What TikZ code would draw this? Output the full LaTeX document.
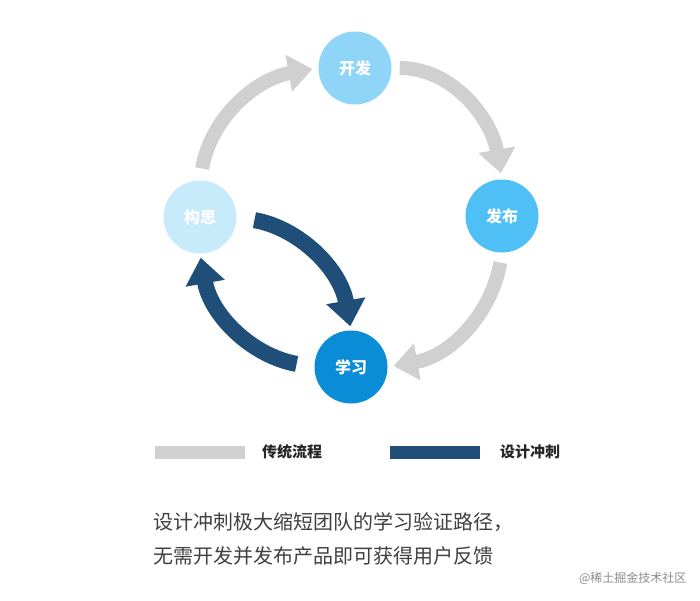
\documentclass[tikz,border=0pt]{standalone}
\usepackage{fontspec}
\setmainfont{Noto Sans CJK SC}
\usetikzlibrary{arrows.meta}
\definecolor{grayarr}{HTML}{D0D0D0}
\definecolor{darkarr}{HTML}{1F4E79}
\definecolor{cA}{HTML}{C8EBFB}
\definecolor{cB}{HTML}{8FD5F8}
\definecolor{cC}{HTML}{4EC0F5}
\definecolor{cD}{HTML}{0A8DD6}
\tikzset{
 stage/.style={circle,minimum size=73pt,inner sep=0pt,text=white,font=\fontsize{16}{16}\selectfont\bfseries},
 grayflow/.style={draw=grayarr,line width=14pt,-{Triangle[length=24pt,width=36pt]}},
 sprint/.style={draw=darkarr,line width=16pt,-{Triangle[length=26pt,width=38pt]}},
 legtxt/.style={font=\fontsize{15}{15}\selectfont\bfseries,text=black!85},
}
\begin{document}
\begin{tikzpicture}[x=1pt,y=-1pt]
\useasboundingbox[fill=white] (0,0) rectangle (700,600);
\node[stage,fill=cB] (kaifa) at (355,68) {开发};
\node[stage,fill=cC] (fabu) at (502,216) {发布};
\node[stage,fill=cD] (xuexi) at (351,367) {学习};
\node[stage,fill=cA] (gousi) at (200,217) {构思};
\draw[grayflow,shorten <=12pt,shorten >=6pt] (gousi.north) to[out=80,in=190] (kaifa.west);
\draw[grayflow,shorten <=8pt,shorten >=6pt] (kaifa.east) to[out=0,in=100] (fabu.north);
\draw[grayflow,shorten <=10pt,shorten >=6pt] (fabu.south) to[out=-100,in=10] (xuexi.east);
\draw[sprint,shorten <=18pt,shorten >=4pt] (gousi.east) to[out=-10,in=100] (xuexi.north);
\draw[sprint,shorten <=18pt,shorten >=4pt] (xuexi.west) to[out=170,in=-80] (gousi.south);
\coordinate (g1) at (155,452); \coordinate (g2) at (245,452);
\draw[grayarr,line width=13pt] (g1) -- (g2);
\node[legtxt] (lg) at (292,452) {传统流程};
\coordinate (d1) at (390,452); \coordinate (d2) at (480,452);
\draw[darkarr,line width=13pt] (d1) -- (d2);
\node[legtxt] (ld) at (530,452) {设计冲刺};
\node[anchor=west,text=black!75,font=\fontsize{20}{20}\selectfont] (t1) at (150,522) {设计冲刺极大缩短团队的学习验证路径，};
\node[anchor=west,text=black!75,font=\fontsize{20}{20}\selectfont] (t2) at (150,556) {无需开发并发布产品即可获得用户反馈};
\node[anchor=east,text=black!45,font=\fontsize{12}{12}\selectfont] (wm) at (690,578) {@稀土掘金技术社区};
\end{tikzpicture}
\end{document}
